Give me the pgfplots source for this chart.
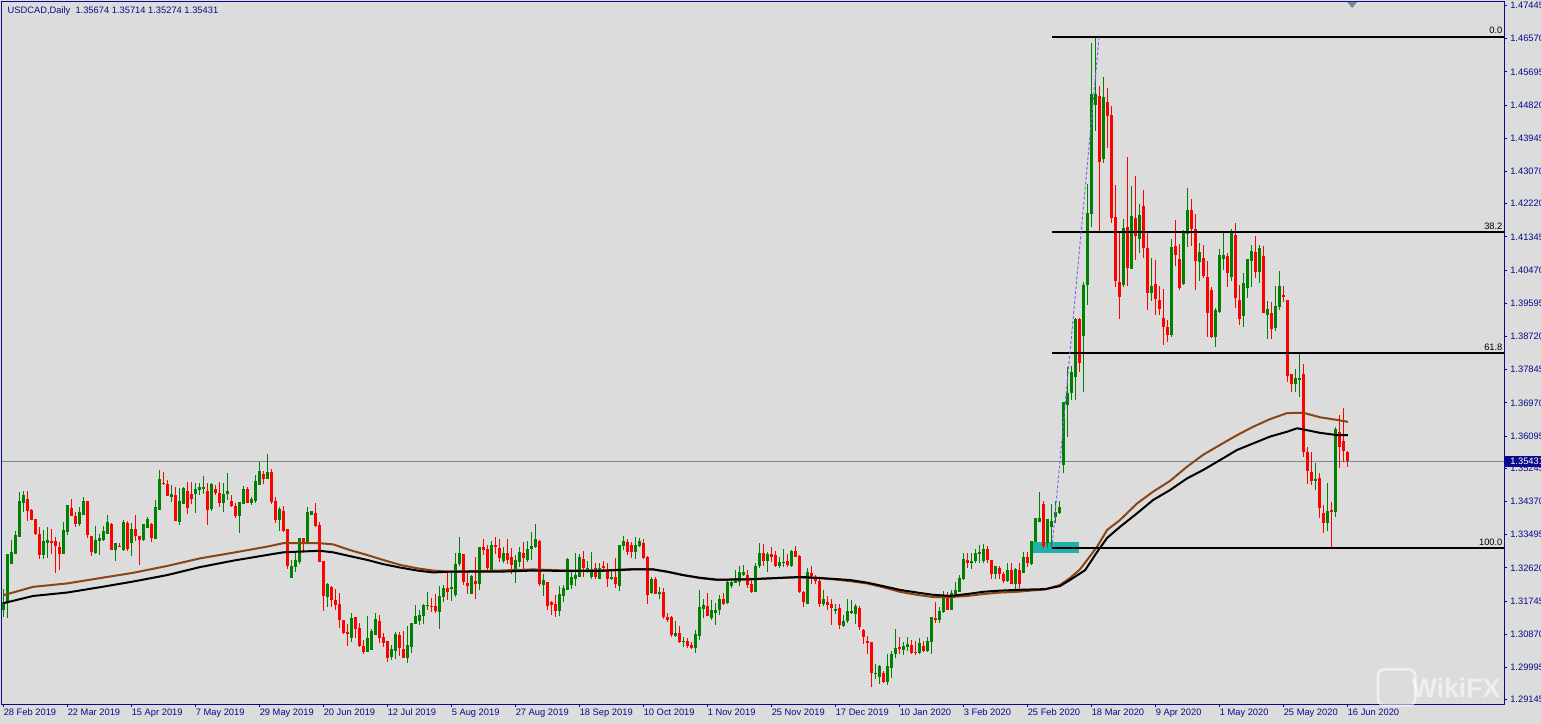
\documentclass[border=0pt]{standalone}
\usepackage{pgfplots}
\usepackage{pgfplotstable}
\pgfplotsset{compat=1.18}
\usepackage{fontspec}
\setmainfont{Liberation Sans}
\definecolor{bgc}{RGB}{220,220,220}
\definecolor{navyc}{RGB}{10,10,140}
\definecolor{upc}{RGB}{0,128,0}
\definecolor{dnc}{RGB}{255,0,0}
\definecolor{brownc}{RGB}{139,69,19}
\definecolor{pricec}{RGB}{119,136,153}
\definecolor{trendc}{RGB}{123,104,238}
\definecolor{cyanc}{RGB}{32,178,170}
\newcommand{\chartfont}{\fontsize{7pt}{8pt}\selectfont}

\pgfplotstableread{
i o h l c
0 1.3151 1.3206 1.3133 1.3171
1 1.3169 1.3300 1.3129 1.3298
2 1.3272 1.3335 1.3272 1.3305
3 1.3299 1.3360 1.3299 1.3349
4 1.3344 1.3463 1.3344 1.3438
5 1.3434 1.3465 1.3410 1.3454
6 1.3443 1.3465 1.3386 1.3413
7 1.3415 1.3416 1.3388 1.3389
8 1.3391 1.3391 1.3349 1.3351
9 1.3351 1.3369 1.3285 1.3296
10 1.3296 1.3362 1.3285 1.3333
11 1.3328 1.3369 1.3287 1.3335
12 1.3333 1.3364 1.3300 1.3328
13 1.3333 1.3344 1.3248 1.3320
14 1.3318 1.3331 1.3256 1.3299
15 1.3299 1.3384 1.3299 1.3362
16 1.3357 1.3427 1.3349 1.3427
17 1.3421 1.3443 1.3399 1.3399
18 1.3399 1.3410 1.3369 1.3378
19 1.3378 1.3423 1.3373 1.3409
20 1.3401 1.3448 1.3401 1.3438
21 1.3437 1.3438 1.3340 1.3349
22 1.3346 1.3346 1.3294 1.3305
23 1.3302 1.3372 1.3299 1.3335
24 1.3333 1.3351 1.3296 1.3342
25 1.3335 1.3372 1.3333 1.3359
26 1.3351 1.3401 1.3351 1.3382
27 1.3378 1.3379 1.3309 1.3309
28 1.3309 1.3328 1.3281 1.3327
29 1.3320 1.3328 1.3316 1.3317
30 1.3309 1.3388 1.3307 1.3382
31 1.3381 1.3386 1.3307 1.3313
32 1.3327 1.3381 1.3294 1.3364
33 1.3364 1.3401 1.3333 1.3346
34 1.3346 1.3346 1.3271 1.3335
35 1.3335 1.3379 1.3333 1.3378
36 1.3366 1.3395 1.3366 1.3390
37 1.3379 1.3379 1.3331 1.3342
38 1.3339 1.3441 1.3339 1.3423
39 1.3415 1.3520 1.3415 1.3497
40 1.3487 1.3516 1.3481 1.3482
41 1.3482 1.3494 1.3451 1.3451
42 1.3450 1.3481 1.3437 1.3457
43 1.3454 1.3476 1.3386 1.3386
44 1.3384 1.3472 1.3375 1.3437
45 1.3430 1.3476 1.3430 1.3473
46 1.3465 1.3489 1.3404 1.3419
47 1.3457 1.3489 1.3430 1.3444
48 1.3457 1.3487 1.3408 1.3469
49 1.3467 1.3487 1.3454 1.3474
50 1.3469 1.3503 1.3457 1.3476
51 1.3465 1.3485 1.3375 1.3414
52 1.3416 1.3485 1.3413 1.3482
53 1.3469 1.3481 1.3454 1.3459
54 1.3460 1.3488 1.3423 1.3432
55 1.3434 1.3485 1.3410 1.3457
56 1.3457 1.3511 1.3441 1.3465
57 1.3438 1.3454 1.3423 1.3425
58 1.3425 1.3434 1.3393 1.3399
59 1.3399 1.3436 1.3355 1.3436
60 1.3430 1.3478 1.3430 1.3470
61 1.3470 1.3476 1.3432 1.3432
62 1.3432 1.3450 1.3428 1.3445
63 1.3438 1.3507 1.3432 1.3491
64 1.3481 1.3542 1.3481 1.3517
65 1.3509 1.3518 1.3483 1.3496
66 1.3496 1.3562 1.3496 1.3515
67 1.3514 1.3524 1.3430 1.3436
68 1.3438 1.3450 1.3379 1.3388
69 1.3388 1.3423 1.3360 1.3416
70 1.3412 1.3425 1.3357 1.3360
71 1.3364 1.3364 1.3258 1.3267
72 1.3235 1.3283 1.3235 1.3267
73 1.3265 1.3305 1.3252 1.3284
74 1.3277 1.3342 1.3272 1.3341
75 1.3341 1.3341 1.3300 1.3325
76 1.3325 1.3423 1.3325 1.3410
77 1.3401 1.3413 1.3401 1.3413
78 1.3408 1.3434 1.3369 1.3372
79 1.3375 1.3382 1.3277 1.3278
80 1.3280 1.3280 1.3149 1.3188
81 1.3186 1.3221 1.3160 1.3219
82 1.3212 1.3215 1.3160 1.3177
83 1.3177 1.3206 1.3151 1.3164
84 1.3167 1.3195 1.3104 1.3125
85 1.3125 1.3125 1.3089 1.3091
86 1.3093 1.3114 1.3057 1.3089
87 1.3076 1.3142 1.3067 1.3131
88 1.3132 1.3133 1.3076 1.3100
89 1.3104 1.3118 1.3054 1.3056
90 1.3056 1.3072 1.3035 1.3041
91 1.3041 1.3135 1.3041 1.3076
92 1.3045 1.3100 1.3045 1.3096
93 1.3085 1.3142 1.3085 1.3127
94 1.3122 1.3138 1.3063 1.3078
95 1.3079 1.3091 1.3054 1.3063
96 1.3069 1.3069 1.3015 1.3025
97 1.3026 1.3059 1.3019 1.3047
98 1.3044 1.3094 1.3021 1.3088
99 1.3085 1.3094 1.3030 1.3050
100 1.3048 1.3096 1.3025 1.3025
101 1.3025 1.3109 1.3012 1.3059
102 1.3054 1.3118 1.3038 1.3118
103 1.3114 1.3164 1.3114 1.3135
104 1.3123 1.3151 1.3111 1.3137
105 1.3136 1.3168 1.3114 1.3164
106 1.3162 1.3198 1.3151 1.3164
107 1.3161 1.3183 1.3147 1.3160
108 1.3161 1.3193 1.3142 1.3148
109 1.3147 1.3214 1.3101 1.3188
110 1.3186 1.3217 1.3173 1.3210
111 1.3210 1.3252 1.3177 1.3198
112 1.3206 1.3252 1.3176 1.3211
113 1.3191 1.3300 1.3186 1.3272
114 1.3272 1.3343 1.3267 1.3300
115 1.3299 1.3300 1.3217 1.3226
116 1.3221 1.3249 1.3193 1.3214
117 1.3193 1.3243 1.3193 1.3241
118 1.3228 1.3290 1.3180 1.3219
119 1.3219 1.3318 1.3205 1.3318
120 1.3318 1.3337 1.3296 1.3309
121 1.3312 1.3322 1.3252 1.3261
122 1.3256 1.3334 1.3256 1.3322
123 1.3322 1.3343 1.3300 1.3318
124 1.3315 1.3337 1.3278 1.3289
125 1.3280 1.3318 1.3274 1.3302
126 1.3302 1.3337 1.3271 1.3283
127 1.3292 1.3315 1.3246 1.3270
128 1.3258 1.3296 1.3223 1.3283
129 1.3278 1.3318 1.3265 1.3303
130 1.3302 1.3331 1.3256 1.3287
131 1.3283 1.3333 1.3278 1.3311
132 1.3311 1.3357 1.3283 1.3320
133 1.3318 1.3379 1.3314 1.3338
134 1.3333 1.3336 1.3214 1.3219
135 1.3217 1.3246 1.3189 1.3230
136 1.3226 1.3226 1.3151 1.3161
137 1.3171 1.3175 1.3138 1.3164
138 1.3167 1.3191 1.3132 1.3149
139 1.3148 1.3214 1.3135 1.3192
140 1.3188 1.3217 1.3173 1.3208
141 1.3204 1.3289 1.3204 1.3285
142 1.3217 1.3252 1.3206 1.3237
143 1.3234 1.3300 1.3214 1.3243
144 1.3239 1.3299 1.3237 1.3292
145 1.3285 1.3306 1.3239 1.3261
146 1.3252 1.3281 1.3249 1.3263
147 1.3237 1.3305 1.3233 1.3258
148 1.3261 1.3276 1.3232 1.3239
149 1.3234 1.3274 1.3234 1.3261
150 1.3268 1.3281 1.3252 1.3261
151 1.3256 1.3276 1.3211 1.3233
152 1.3232 1.3258 1.3230 1.3239
153 1.3239 1.3287 1.3208 1.3219
154 1.3214 1.3322 1.3202 1.3322
155 1.3320 1.3346 1.3309 1.3334
156 1.3331 1.3337 1.3296 1.3305
157 1.3322 1.3331 1.3287 1.3305
158 1.3305 1.3343 1.3285 1.3322
159 1.3320 1.3340 1.3318 1.3333
160 1.3328 1.3337 1.3285 1.3287
161 1.3292 1.3293 1.3167 1.3191
162 1.3195 1.3239 1.3193 1.3233
163 1.3233 1.3239 1.3193 1.3194
164 1.3193 1.3211 1.3181 1.3198
165 1.3198 1.3208 1.3127 1.3133
166 1.3133 1.3142 1.3120 1.3125
167 1.3132 1.3135 1.3081 1.3085
168 1.3082 1.3123 1.3079 1.3091
169 1.3091 1.3108 1.3065 1.3067
170 1.3067 1.3079 1.3054 1.3070
171 1.3070 1.3076 1.3050 1.3056
172 1.3058 1.3067 1.3047 1.3052
173 1.3051 1.3098 1.3038 1.3087
174 1.3083 1.3205 1.3073 1.3158
175 1.3153 1.3179 1.3129 1.3164
176 1.3161 1.3195 1.3135 1.3135
177 1.3129 1.3177 1.3126 1.3151
178 1.3144 1.3170 1.3111 1.3152
179 1.3152 1.3190 1.3137 1.3181
180 1.3179 1.3196 1.3164 1.3168
181 1.3170 1.3228 1.3168 1.3224
182 1.3215 1.3234 1.3210 1.3226
183 1.3223 1.3256 1.3221 1.3236
184 1.3225 1.3267 1.3214 1.3250
185 1.3243 1.3269 1.3240 1.3250
186 1.3243 1.3256 1.3208 1.3217
187 1.3219 1.3231 1.3196 1.3199
188 1.3199 1.3274 1.3199 1.3268
189 1.3267 1.3328 1.3261 1.3302
190 1.3302 1.3325 1.3267 1.3281
191 1.3281 1.3304 1.3252 1.3298
192 1.3298 1.3316 1.3278 1.3291
193 1.3296 1.3307 1.3265 1.3267
194 1.3267 1.3291 1.3263 1.3278
195 1.3275 1.3311 1.3265 1.3278
196 1.3280 1.3298 1.3265 1.3269
197 1.3268 1.3309 1.3265 1.3306
198 1.3306 1.3320 1.3291 1.3291
199 1.3294 1.3296 1.3196 1.3199
200 1.3199 1.3202 1.3158 1.3173
201 1.3168 1.3261 1.3168 1.3252
202 1.3249 1.3267 1.3219 1.3240
203 1.3234 1.3243 1.3219 1.3228
204 1.3228 1.3234 1.3159 1.3166
205 1.3166 1.3203 1.3161 1.3180
206 1.3173 1.3188 1.3152 1.3164
207 1.3168 1.3181 1.3111 1.3155
208 1.3149 1.3168 1.3140 1.3155
209 1.3155 1.3168 1.3102 1.3111
210 1.3108 1.3137 1.3105 1.3122
211 1.3122 1.3180 1.3117 1.3148
212 1.3144 1.3177 1.3140 1.3149
213 1.3140 1.3166 1.3114 1.3161
214 1.3157 1.3161 1.3098 1.3105
215 1.3098 1.3102 1.3061 1.3080
216 1.3070 1.3082 1.3036 1.3065
217 1.3066 1.3066 1.2949 1.2985
218 1.2984 1.3008 1.2970 1.2985
219 1.2975 1.3006 1.2957 1.3003
220 1.2984 1.2990 1.2959 1.2962
221 1.2962 1.3036 1.2953 1.3003
222 1.2999 1.3043 1.2973 1.3036
223 1.3036 1.3102 1.3025 1.3052
224 1.3054 1.3080 1.3036 1.3049
225 1.3045 1.3067 1.3032 1.3056
226 1.3054 1.3080 1.3043 1.3061
227 1.3058 1.3072 1.3034 1.3038
228 1.3041 1.3069 1.3032 1.3038
229 1.3038 1.3076 1.3036 1.3063
230 1.3056 1.3070 1.3041 1.3043
231 1.3043 1.3079 1.3041 1.3069
232 1.3067 1.3133 1.3034 1.3133
233 1.3131 1.3173 1.3116 1.3124
234 1.3124 1.3158 1.3116 1.3149
235 1.3146 1.3202 1.3144 1.3186
236 1.3188 1.3199 1.3151 1.3151
237 1.3151 1.3203 1.3151 1.3195
238 1.3193 1.3225 1.3190 1.3205
239 1.3199 1.3243 1.3199 1.3236
240 1.3234 1.3302 1.3230 1.3285
241 1.3284 1.3300 1.3261 1.3274
242 1.3274 1.3302 1.3258 1.3281
243 1.3281 1.3311 1.3275 1.3302
244 1.3298 1.3322 1.3274 1.3304
245 1.3281 1.3326 1.3275 1.3313
246 1.3313 1.3319 1.3274 1.3284
247 1.3284 1.3284 1.3234 1.3246
248 1.3246 1.3267 1.3234 1.3267
249 1.3263 1.3267 1.3234 1.3246
250 1.3246 1.3252 1.3221 1.3228
251 1.3228 1.3275 1.3225 1.3256
252 1.3256 1.3275 1.3219 1.3219
253 1.3219 1.3261 1.3203 1.3258
254 1.3256 1.3274 1.3203 1.3219
255 1.3249 1.3304 1.3249 1.3290
256 1.3290 1.3304 1.3265 1.3275
257 1.3272 1.3333 1.3270 1.3333
258 1.3331 1.3394 1.3331 1.3394
259 1.3382 1.3463 1.3382 1.3394
260 1.3430 1.3439 1.3314 1.3321
261 1.3327 1.3390 1.3315 1.3390
262 1.3369 1.3430 1.3314 1.3386
263 1.3395 1.3439 1.3380 1.3409
264 1.3408 1.3439 1.3403 1.3423
265 1.3533 1.3700 1.3513 1.3700
266 1.3691 1.3792 1.3607 1.3723
267 1.3723 1.3794 1.3705 1.3779
268 1.3766 1.3921 1.3705 1.3917
269 1.3918 1.3921 1.3779 1.3803
270 1.3872 1.4016 1.3726 1.4008
271 1.4008 1.4274 1.3955 1.4198
272 1.4195 1.4646 1.4161 1.4511
273 1.4482 1.4662 1.4414 1.4511
274 1.4506 1.4532 1.4148 1.4333
275 1.4340 1.4557 1.4330 1.4503
276 1.4490 1.4526 1.4370 1.4453
277 1.4456 1.4480 1.4172 1.4185
278 1.4187 1.4271 1.4003 1.4018
279 1.4016 1.4151 1.3917 1.3975
280 1.4008 1.4181 1.4002 1.4158
281 1.4161 1.4346 1.4006 1.4053
282 1.4051 1.4269 1.4051 1.4190
283 1.4184 1.4295 1.4074 1.4138
284 1.4129 1.4221 1.4091 1.4192
285 1.4216 1.4258 1.4080 1.4106
286 1.4106 1.4144 1.3942 1.3986
287 1.3987 1.4078 1.3966 1.4005
288 1.4010 1.4074 1.3929 1.3970
289 1.3968 1.4005 1.3929 1.3944
290 1.3920 1.3997 1.3850 1.3898
291 1.3898 1.3915 1.3858 1.3876
292 1.3876 1.4129 1.3870 1.4107
293 1.4111 1.4179 1.4059 1.4088
294 1.4076 1.4116 1.3995 1.3999
295 1.4011 1.4153 1.4008 1.4144
296 1.4141 1.4263 1.4109 1.4205
297 1.4205 1.4234 1.4111 1.4155
298 1.4155 1.4195 1.3995 1.4072
299 1.4068 1.4118 1.4019 1.4095
300 1.4079 1.4113 1.4025 1.4032
301 1.4030 1.4072 1.3872 1.3933
302 1.3995 1.4003 1.3868 1.3872
303 1.3872 1.3947 1.3845 1.3942
304 1.3937 1.4104 1.3934 1.4087
305 1.4077 1.4151 1.4047 1.4087
306 1.4084 1.4091 1.4003 1.4040
307 1.4030 1.4155 1.4019 1.4144
308 1.4140 1.4170 1.3946 1.3973
309 1.3968 1.4008 1.3902 1.3917
310 1.3926 1.4040 1.3898 1.4013
311 1.3999 1.4076 1.3973 1.4076
312 1.4072 1.4113 1.4002 1.4097
313 1.4095 1.4137 1.4027 1.4043
314 1.4043 1.4113 1.4014 1.4104
315 1.4084 1.4111 1.3934 1.3935
316 1.3929 1.3966 1.3865 1.3944
317 1.3935 1.3964 1.3865 1.3891
318 1.3894 1.4005 1.3887 1.3952
319 1.3949 1.4045 1.3942 1.4005
320 1.3981 1.4005 1.3964 1.3975
321 1.3968 1.3968 1.3753 1.3768
322 1.3773 1.3773 1.3726 1.3747
323 1.3747 1.3786 1.3726 1.3762
324 1.3756 1.3832 1.3712 1.3763
325 1.3774 1.3799 1.3555 1.3568
326 1.3568 1.3582 1.3483 1.3518
327 1.3516 1.3568 1.3481 1.3492
328 1.3492 1.3539 1.3466 1.3496
329 1.3498 1.3513 1.3393 1.3419
330 1.3407 1.3428 1.3353 1.3380
331 1.3380 1.3485 1.3360 1.3413
332 1.3415 1.3437 1.3314 1.3409
333 1.3409 1.3633 1.3395 1.3627
334 1.3621 1.3665 1.3525 1.3580
335 1.3597 1.3684 1.3542 1.3571
336 1.35674 1.35714 1.35274 1.35431
}\candles

\pgfplotstableread{
i p
0 1.3190
7.4 1.3212
15.9 1.3221
24.1 1.3235
32.4 1.3249
40.9 1.3267
49.1 1.3287
57.4 1.3302
65.9 1.3318
69.9 1.3327
74.1 1.3327
79.1 1.3327
82.4 1.3324
86.6 1.3309
90.9 1.3296
94.9 1.3283
99.1 1.3270
103.4 1.3261
107.4 1.3255
111.6 1.3252
124.1 1.3255
132.4 1.3258
140.9 1.3255
149.1 1.3255
157.4 1.3259
162.4 1.3258
165.9 1.3252
169.9 1.3243
174.1 1.3235
178.4 1.3230
186.6 1.3232
194.9 1.3236
199.1 1.3237
203.4 1.3235
207.4 1.3232
211.6 1.3227
215.9 1.3221
219.9 1.3211
224.1 1.3199
228.4 1.3191
232.4 1.3185
236.6 1.3185
240.9 1.3188
244.9 1.3193
249.1 1.3197
253.4 1.3199
256.6 1.3202
260.4 1.3205
264.1 1.3217
266.6 1.3235
269.1 1.3258
270.9 1.3283
273.4 1.3318
275.9 1.3362
279.1 1.3388
283.4 1.3432
287.4 1.3463
291.6 1.3491
295.9 1.3529
299.9 1.3560
304.1 1.3586
308.4 1.3612
312.4 1.3634
316.6 1.3654
320.9 1.3670
324.9 1.3671
329.1 1.3659
333.4 1.3652
336.1 1.3647
}\brownma

\pgfplotstableread{
i p
0 1.3169
7.4 1.3188
15.9 1.3197
24.1 1.3211
32.4 1.3226
40.9 1.3243
49.1 1.3264
57.4 1.3281
65.9 1.3296
69.9 1.3303
74.1 1.3305
79.1 1.3307
82.4 1.3303
86.6 1.3293
90.9 1.3283
94.9 1.3272
99.1 1.3263
103.4 1.3255
107.4 1.3250
111.6 1.3252
124.1 1.3252
132.4 1.3255
140.9 1.3254
149.1 1.3254
157.4 1.3258
162.4 1.3258
165.9 1.3252
169.9 1.3243
174.1 1.3236
178.4 1.3231
186.6 1.3232
194.9 1.3236
199.1 1.3238
203.4 1.3236
207.4 1.3233
211.6 1.3230
215.9 1.3223
219.9 1.3214
224.1 1.3204
228.4 1.3197
232.4 1.3191
236.6 1.3188
240.9 1.3193
244.9 1.3199
249.1 1.3202
253.4 1.3204
256.6 1.3205
260.4 1.3206
264.1 1.3214
266.6 1.3230
270.4 1.3256
273.4 1.3304
275.9 1.3341
279.1 1.3370
283.4 1.3406
287.4 1.3441
291.6 1.3467
295.9 1.3498
299.9 1.3520
304.1 1.3546
308.4 1.3573
312.4 1.3590
316.6 1.3608
320.9 1.3621
323.4 1.3630
324.9 1.3627
329.1 1.3618
333.4 1.3612
336.1 1.3612
}\blackma

\begin{document}
\begin{tikzpicture}
\path[use as bounding box] (-1.5pt,-15pt) rectangle (1154.25pt,528pt);
\clip (-1.5pt,-15pt) rectangle (1154.25pt,528pt);
\fill[bgc] (-1.5pt,-15pt) rectangle (1154.25pt,528pt);
\begin{axis}[
  at={(0pt,0pt)}, anchor=south west,
  scale only axis, width=1126.5pt, height=526.5pt,
  xmin=-0.375, xmax=375.125, ymin=1.29032, ymax=1.47537,
  axis background/.style={fill=bgc},
  axis line style={draw=navyc, line width=0.75pt},
  tick style={draw=navyc, line width=0.75pt},
  tick align=outside, major tick length=2.5pt,
  xtick pos=bottom, ytick pos=right, yticklabel pos=right,
  xtick={0,16,...,336},
  xticklabels={28 Feb 2019,22 Mar 2019,15 Apr 2019,7 May 2019,29 May 2019,20 Jun 2019,12 Jul 2019,5 Aug 2019,27 Aug 2019,18 Sep 2019,10 Oct 2019,1 Nov 2019,25 Nov 2019,17 Dec 2019,10 Jan 2020,3 Feb 2020,25 Feb 2020,18 Mar 2020,9 Apr 2020,1 May 2020,25 May 2020,16 Jun 2020},
  ytick={1.29145,1.29995,1.30870,1.31745,1.32620,1.33495,1.34370,1.35245,1.36095,1.36970,1.37845,1.38720,1.39595,1.40470,1.41345,1.42220,1.43070,1.43945,1.44820,1.45695,1.46570,1.47445},
  yticklabels={1.29145,1.29995,1.30870,1.31745,1.32620,1.33495,1.34370,1.35245,1.36095,1.36970,1.37845,1.38720,1.39595,1.40470,1.41345,1.42220,1.43070,1.43945,1.44820,1.45695,1.46570,1.47445},
  xticklabel style={anchor=north west, inner sep=0pt, text=navyc, font=\chartfont, xshift=0pt, yshift=-1pt},
  yticklabel style={anchor=west, inner sep=0pt, text=navyc, font=\chartfont, xshift=2pt},
  candle/.style={only marks, mark=*, mark size=0pt, mark options={draw=none, fill=none}, forget plot},
  clip=true,
]
\fill[cyanc] (axis cs:257.3,1.3300) rectangle (axis cs:268.9,1.3331);
\addplot[pricec, line width=0.75pt, forget plot] coordinates {(-0.375,1.35431) (375.125,1.35431)};
% wicks
\addplot[upc, candle,
  restrict expr to domain={\thisrow{c}-\thisrow{o}}{0:1},
  error bars/.cd, y dir=both, y explicit, error mark=none,
  error bar style={line width=0.75pt, draw=upc}]
  table[x=i, y expr={(\thisrow{h}+\thisrow{l})/2}, y error expr={(\thisrow{h}-\thisrow{l})/2}] {\candles};
\addplot[dnc, candle,
  restrict expr to domain={\thisrow{c}-\thisrow{o}}{-1:-0.00005},
  error bars/.cd, y dir=both, y explicit, error mark=none,
  error bar style={line width=0.75pt, draw=dnc}]
  table[x=i, y expr={(\thisrow{h}+\thisrow{l})/2}, y error expr={(\thisrow{h}-\thisrow{l})/2}] {\candles};
% bodies
\addplot[upc, candle,
  restrict expr to domain={\thisrow{c}-\thisrow{o}}{0:1},
  error bars/.cd, y dir=both, y explicit, error mark=none,
  error bar style={line width=2.25pt, draw=upc}]
  table[x=i, y expr={(\thisrow{o}+\thisrow{c})/2}, y error expr={max(abs(\thisrow{c}-\thisrow{o})/2,0.0001)}] {\candles};
\addplot[dnc, candle,
  restrict expr to domain={\thisrow{c}-\thisrow{o}}{-1:-0.00005},
  error bars/.cd, y dir=both, y explicit, error mark=none,
  error bar style={line width=2.25pt, draw=dnc}]
  table[x=i, y expr={(\thisrow{o}+\thisrow{c})/2}, y error expr={max(abs(\thisrow{c}-\thisrow{o})/2,0.0001)}] {\candles};
% moving averages
\addplot[brownc, line width=1.5pt, mark=none, forget plot] table[x=i, y=p] {\brownma};
\addplot[black, line width=1.5pt, mark=none, forget plot] table[x=i, y=p] {\blackma};
% fibonacci levels
\addplot[black, line width=1.5pt, forget plot] coordinates {(262,1.4662) (375.125,1.4662)};
\addplot[black, line width=1.5pt, forget plot] coordinates {(262,1.4147) (375.125,1.4147)};
\addplot[black, line width=1.5pt, forget plot] coordinates {(262,1.3828) (375.125,1.3828)};
\addplot[black, line width=1.5pt, forget plot] coordinates {(262,1.3314) (375.125,1.3314)};
\addplot[trendc, line width=0.75pt, dash pattern=on 2.25pt off 1.5pt, forget plot] coordinates {(262.1,1.3314) (273.9,1.4662)};
\node[anchor=south east, inner sep=0pt, font=\chartfont, xshift=-1pt, yshift=2pt] at (axis cs:375.125,1.4662) {0.0};
\node[anchor=south east, inner sep=0pt, font=\chartfont, xshift=-1pt, yshift=2pt] at (axis cs:375.125,1.4147) {38.2};
\node[anchor=south east, inner sep=0pt, font=\chartfont, xshift=-1pt, yshift=2pt] at (axis cs:375.125,1.3828) {61.8};
\node[anchor=south east, inner sep=0pt, font=\chartfont, xshift=-1pt, yshift=2pt] at (axis cs:375.125,1.3314) {100.0};
\fill[pricec] (axis cs:335.9,1.47537) -- (axis cs:338.4,1.47537) -- (axis cs:337.15,1.4738) -- cycle;
\coordinate (pricept) at (axis cs:375.125,1.35431);
\end{axis}
\node[anchor=west, inner sep=0pt, text=navyc, font=\chartfont] at (4pt,519.75pt) {USDCAD,Daily\ \ 1.35674 1.35714 1.35274 1.35431};
\node[anchor=west, fill=navyc, text=white, inner xsep=3.75pt, inner ysep=0pt, minimum height=8.25pt, font=\chartfont, xshift=0.75pt] at (pricept) {1.35431};
\node[anchor=east, text=white, opacity=0.55, font=\bfseries\fontsize{20pt}{22pt}\selectfont, inner sep=0pt] at (1124pt,12pt) {WikiFX};
\draw[white, opacity=0.55, line width=2pt, rounded corners=5pt] (1032pt,-1pt) rectangle (1060pt,26pt);
\end{tikzpicture}
\end{document}
